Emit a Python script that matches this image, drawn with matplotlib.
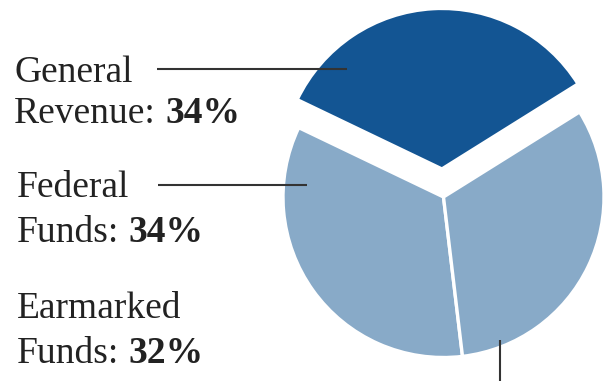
import matplotlib
matplotlib.use("Agg")
import matplotlib.pyplot as plt
from matplotlib.transforms import Affine2D

# Revenue sources and their shares (percent)
categories = ["General Revenue", "Federal Funds", "Earmarked Funds"]
label_top = ["General", "Federal", "Earmarked"]
label_bottom = ["Revenue:", "Funds:", "Funds:"]
shares = [34, 34, 32]
colors = ["#135593", "#88AAC8", "#88AAC8"]
explode = [0.175, 0, 0]

W, H = 611, 381
fig = plt.figure(figsize=(W / 100, H / 100), dpi=100)
ax = fig.add_axes([0, 0, 1, 1])

# Pie centre and radius in pixels
R = 160.5
cx, cy = 443.5, 197.0

ax.pie(
    shares,
    colors=colors,
    explode=explode,
    startangle=32,
    counterclock=True,
    radius=1.0,
    center=(0, 0),
    wedgeprops=dict(edgecolor="white", linewidth=2.4),
)
ax.set_xlim(-cx / R, (W - cx) / R)
ax.set_ylim(-(H - cy) / R, cy / R)
ax.set_aspect("auto")
ax.axis("off")

# Transform for placing labels in pixel units from the top-left corner
px = Affine2D().scale(1 / W, -1 / H).translate(0, 1) + fig.transFigure

font = "Liberation Serif"
fs = 27
text_color = "#222222"
line_color = "#333333"

label_x = [14, 17, 17]
baseline_top = [82, 197, 318]
baseline_bottom = [123, 242, 363]

for i in range(len(categories)):
    ax.text(label_x[i], baseline_top[i], label_top[i], transform=px,
            fontsize=fs, family=font, color=text_color, va="baseline", ha="left")
    t = ax.text(label_x[i], baseline_bottom[i], label_bottom[i], transform=px,
                fontsize=fs, family=font, color=text_color, va="baseline", ha="left")
    ax.annotate(f"{shares[i]}%", xy=(1, 0), xycoords=t,
                xytext=(0.25 * fs, 0), textcoords="offset points",
                fontsize=fs, family=font, fontweight="bold", color=text_color,
                va="bottom", ha="left")

# Leader lines
ax.plot([157, 347], [69, 69], transform=px, color=line_color, lw=1.5,
        solid_capstyle="butt", clip_on=False)
ax.plot([158, 307], [185, 185], transform=px, color=line_color, lw=1.5,
        solid_capstyle="butt", clip_on=False)
ax.plot([500, 500], [340, 381], transform=px, color=line_color, lw=1.5,
        solid_capstyle="butt", clip_on=False)

fig.savefig("out.png", dpi=100, facecolor="white")
